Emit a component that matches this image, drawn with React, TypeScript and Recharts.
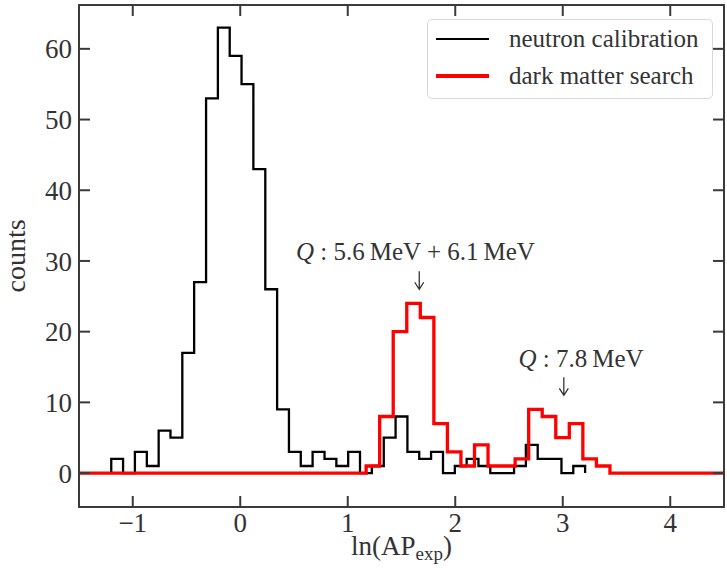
import React from "react";
import { LineChart, Line, XAxis, YAxis, Legend, ReferenceDot, ReferenceArea, Label } from "recharts";

// bin edges / counts
const blackEdges = [
  -1.2, -1.09, -0.98, -0.869, -0.759, -0.649, -0.539, -0.429, -0.318, -0.208,
  -0.098, 0.012, 0.122, 0.233, 0.343, 0.453, 0.563, 0.673, 0.784, 0.894,
  1.004, 1.114, 1.224, 1.335, 1.445, 1.555, 1.665, 1.775, 1.886, 1.996,
  2.106, 2.216, 2.326, 2.437, 2.547, 2.657, 2.767, 2.877, 2.988, 3.098, 3.208,
];
const blackCounts = [
  2, 0, 3, 1, 6, 5, 17, 27, 53, 63, 59, 55, 43, 26, 9, 3, 1, 3, 2, 1,
  3, 0, 1, 5, 8, 3, 2, 3, 0, 1, 2, 1, 0, 0, 1, 4, 2, 2, 0, 1,
];
const redEdges = [
  1.171, 1.297, 1.423, 1.549, 1.675, 1.801, 1.927, 2.053, 2.179, 2.305,
  2.431, 2.557, 2.683, 2.809, 2.935, 3.061, 3.187, 3.313, 3.439,
];
const redCounts = [1, 8, 20, 24, 22, 7, 3, 1, 4, 1, 1, 2, 9, 8, 5, 7, 2, 1];

const xRange = [-1.5, 4.5];
const yRange = [-4.8, 66.2];
const xTicks = [-1, 0, 1, 2, 3, 4];
const yTicks = [0, 10, 20, 30, 40, 50, 60];
const seriesNames = ["neutron calibration", "dark matter search"];

const annotations = [
  { arrowX: 1.665, arrowY: 26, textX: 1.63, textY: 30.2, energy: "5.6\u2009MeV + 6.1\u2009MeV" },
  { arrowX: 3.01, arrowY: 11, textX: 3.17, textY: 15, energy: "7.8\u2009MeV" },
];

const serif = "'Liberation Serif', 'DejaVu Serif', serif";
const ink = "#333";
const axisColor = "#3a3a3a";

const toSteps = (edges: number[], counts: number[]) => [
  { x: edges[0], y: 0 },
  ...counts.map((c, i) => ({ x: edges[i], y: c })),
  { x: edges[edges.length - 1], y: 0 },
];

const blackData = toSteps(blackEdges, blackCounts);
const redData = [
  { x: xRange[0], y: 0 },
  ...toSteps(redEdges, redCounts),
  { x: xRange[1], y: 0 },
];

const fmt = (v: number) => (v < 0 ? `\u2212${-v}` : `${v}`);
const tickStyle = { fill: ink, fontSize: 27, fontFamily: serif };
const noTick = () => <g />;

const LegendBox = ({ payload }: any) => {
  const items = [...(payload || [])].sort(
    (a: any, b: any) => seriesNames.indexOf(a.value) - seriesNames.indexOf(b.value)
  );
  return (
    <div
      style={{
        width: 286,
        height: 80,
        boxSizing: "border-box",
        border: "1px solid #d8d8d8",
        borderRadius: 5,
        background: "rgba(255,255,255,0.85)",
        position: "relative",
        fontFamily: serif,
        fontSize: 25,
        color: ink,
      }}
    >
      {items.map((p: any, i: number) => (
        <div
          key={p.value}
          style={{ position: "absolute", left: 8, top: 4 + i * 37, height: 30, display: "flex", alignItems: "center", whiteSpace: "nowrap" }}
        >
          <span style={{ display: "inline-block", width: 53, height: i === 0 ? 2.5 : 3.5, background: p.color }} />
          <span style={{ marginLeft: 20 }}>{p.value}</span>
        </div>
      ))}
    </div>
  );
};

const arrowLabel = (props: any) => {
  const { viewBox } = props;
  const cx = viewBox.x + viewBox.width / 2;
  const cy = viewBox.y + viewBox.height / 2;
  return (
    <path
      d={`M${cx},${cy - 18}L${cx},${cy}M${cx - 4.5},${cy - 7}L${cx},${cy}L${cx + 4.5},${cy - 7}`}
      stroke={ink}
      strokeWidth={1.3}
      fill="none"
    />
  );
};

const qLabel = (energy: string) => (props: any) => {
  const { viewBox } = props;
  const cx = viewBox.x + viewBox.width / 2;
  const cy = viewBox.y + viewBox.height / 2;
  return (
    <text x={cx} y={cy} textAnchor="middle" fontSize={25} fill={ink} fontFamily={serif}>
      <tspan fontStyle="italic">Q</tspan>
      <tspan>{` : ${energy}`}</tspan>
    </text>
  );
};

const XTitle = ({ viewBox }: any) => (
  <text x={viewBox.x + viewBox.width / 2} y={viewBox.y + 48} textAnchor="middle" fontSize={27} fill={ink} fontFamily={serif}>
    ln(AP<tspan fontSize={19} dy={5}>exp</tspan>
    <tspan dy={-5}>)</tspan>
  </text>
);

const YTitle = ({ viewBox }: any) => {
  const cy = viewBox.y + viewBox.height / 2;
  return (
    <text x={25} y={cy} transform={`rotate(-90 25 ${cy})`} textAnchor="middle" fontSize={28} fill={ink} fontFamily={serif}>
      counts
    </text>
  );
};

export default function App() {
  return (
    <div style={{ position: "absolute", left: 0, top: 0, fontFamily: serif }}>
      <LineChart width={727} height={568} margin={{ top: -15, right: -17, bottom: 0, left: 0 }}>
        <XAxis
          type="number"
          dataKey="x"
          domain={xRange}
          ticks={xTicks}
          allowDataOverflow
          height={61}
          tickSize={-11}
          tickMargin={17}
          tickFormatter={fmt}
          tick={tickStyle}
          stroke={axisColor}
          strokeWidth={2}
        >
          <Label content={<XTitle />} />
        </XAxis>
        <XAxis
          xAxisId="top"
          orientation="top"
          type="number"
          dataKey="x"
          domain={xRange}
          ticks={xTicks}
          allowDataOverflow
          height={20}
          tickSize={-11}
          tick={noTick}
          stroke={axisColor}
          strokeWidth={2}
        />
        <YAxis
          type="number"
          domain={yRange}
          ticks={yTicks}
          allowDataOverflow
          width={79}
          tickSize={-11}
          tickMargin={18}
          tick={tickStyle}
          stroke={axisColor}
          strokeWidth={2}
        >
          <Label content={<YTitle />} />
        </YAxis>
        <YAxis
          yAxisId="right"
          orientation="right"
          type="number"
          domain={yRange}
          ticks={yTicks}
          allowDataOverflow
          width={20}
          tickSize={-11}
          tick={noTick}
          stroke={axisColor}
          strokeWidth={2}
        />
        <ReferenceArea
          x1={xRange[0]}
          x2={xRange[1]}
          y1={yRange[0]}
          y2={yRange[1]}
          fill="none"
          stroke={axisColor}
          strokeWidth={2}
          ifOverflow="visible"
        />
        <Line
          data={blackData}
          dataKey="y"
          name={seriesNames[0]}
          type="stepAfter"
          stroke="#000"
          strokeWidth={2.3}
          dot={false}
          activeDot={false}
          isAnimationActive={false}
        />
        <Line
          data={redData}
          dataKey="y"
          name={seriesNames[1]}
          xAxisId="top"
          yAxisId="right"
          type="stepAfter"
          stroke="#ff0000"
          strokeWidth={3.3}
          dot={false}
          activeDot={false}
          isAnimationActive={false}
        />
        {annotations.map((a) => (
          <ReferenceDot key={`a${a.arrowX}`} x={a.arrowX} y={a.arrowY} r={0} stroke="none" label={arrowLabel} />
        ))}
        {annotations.map((a) => (
          <ReferenceDot key={`t${a.textX}`} x={a.textX} y={a.textY} r={0} stroke="none" label={qLabel(a.energy)} />
        ))}
        <Legend
          layout="vertical"
          align="center"
          verticalAlign="middle"
          content={<LegendBox />}
          wrapperStyle={{ left: 427, top: 19, width: 286, height: 80 }}
        />
      </LineChart>
    </div>
  );
}
